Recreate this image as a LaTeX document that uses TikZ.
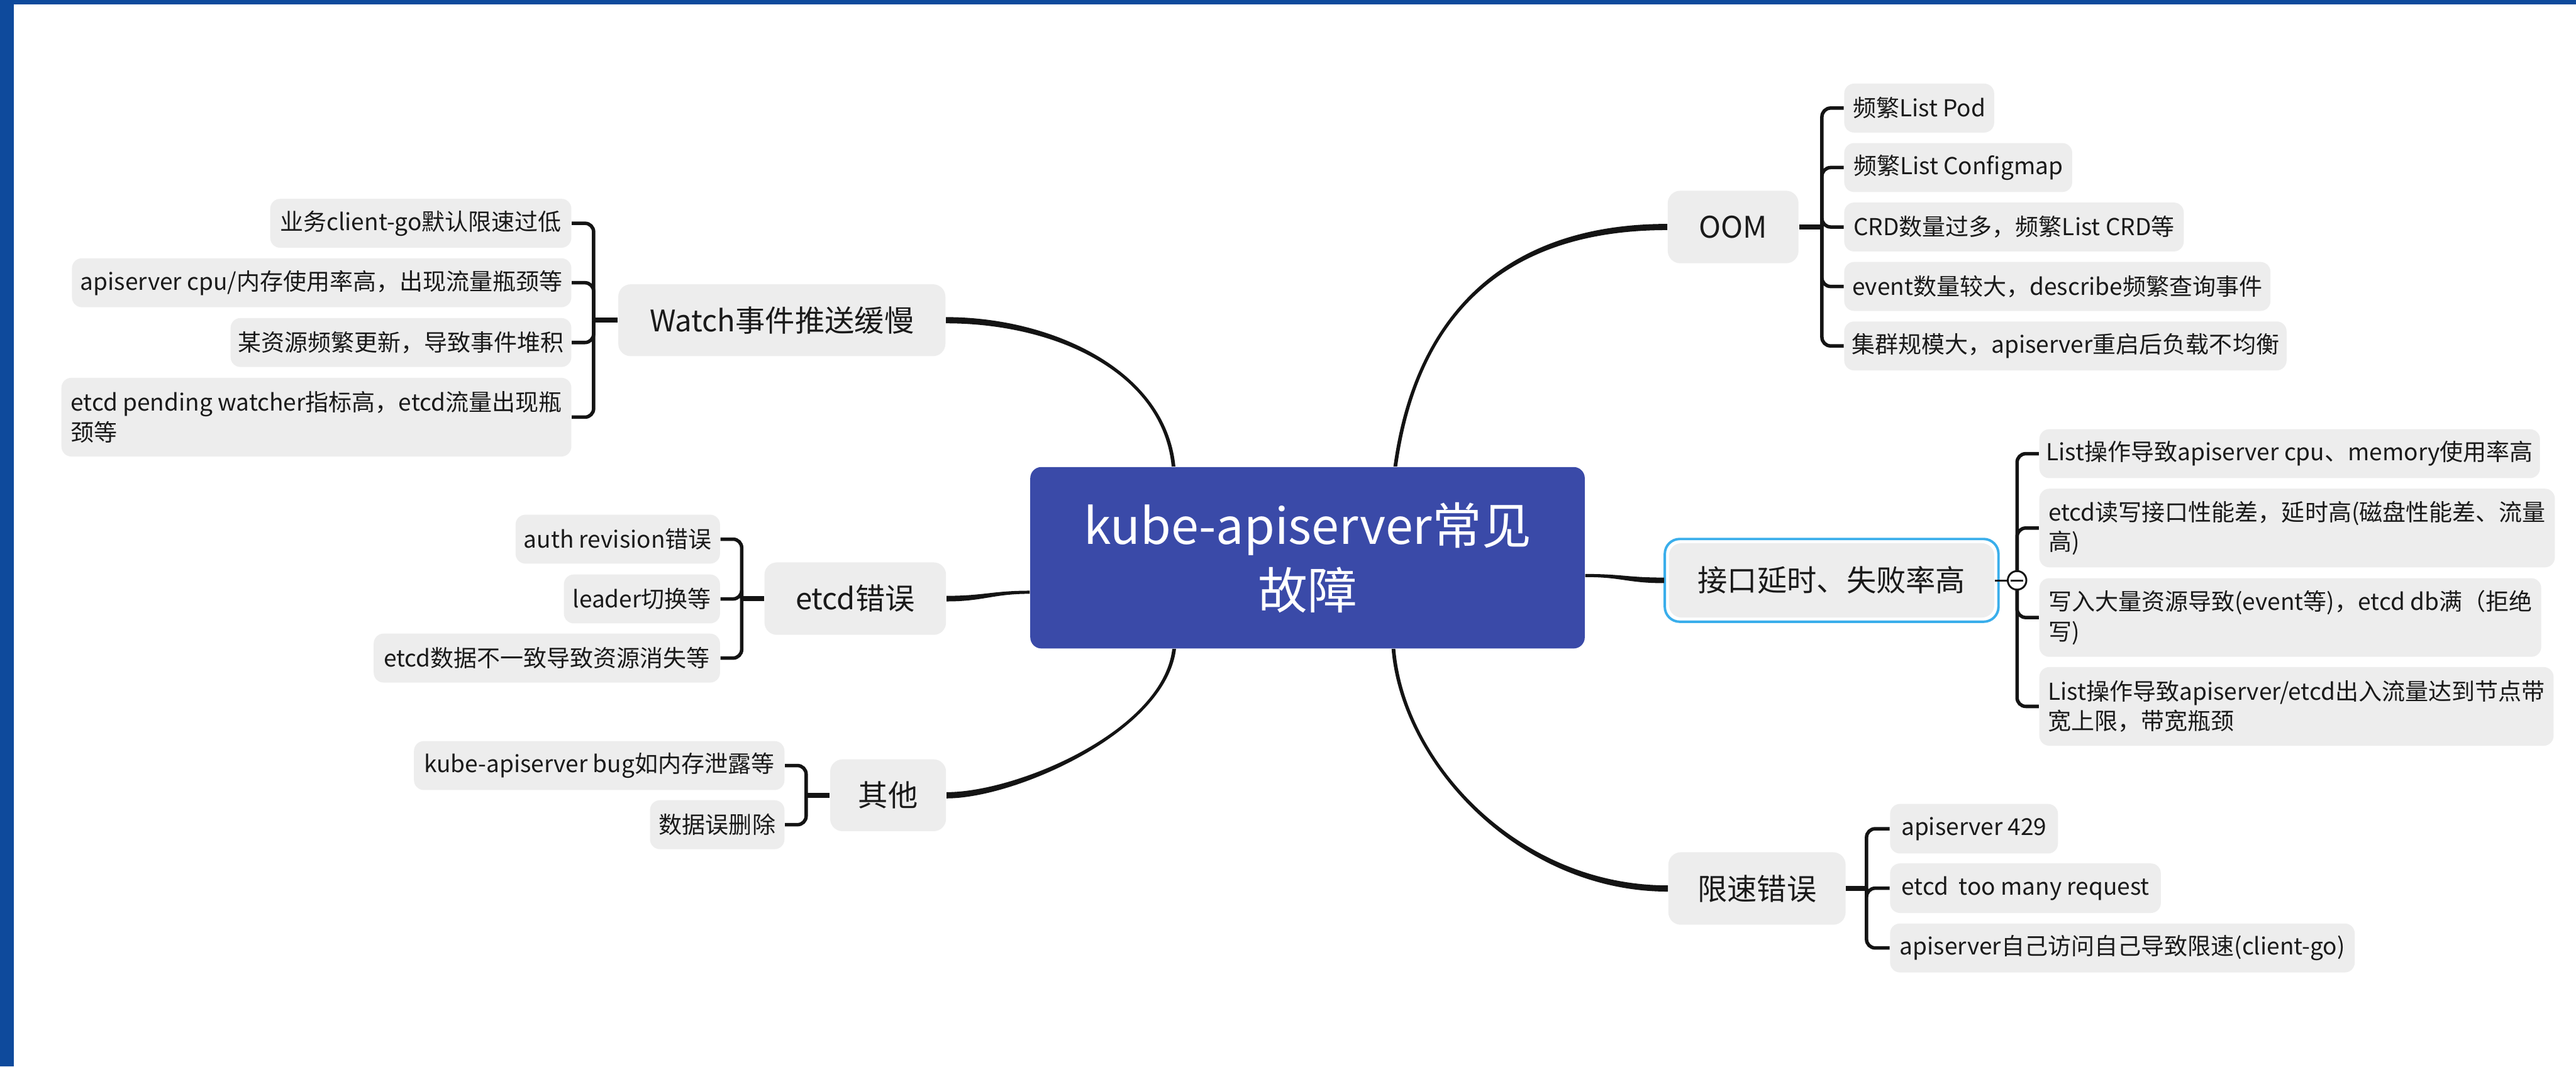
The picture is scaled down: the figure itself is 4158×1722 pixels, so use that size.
\documentclass[tikz,border=0pt]{standalone}
\usepackage{fontspec}
\setmainfont{Noto Sans CJK SC}
\usetikzlibrary{calc}

% one drawing unit = 0.25pt
\def\pxu{*0.25pt}

\definecolor{barblue}{HTML}{0E4A9C}
\definecolor{hubblue}{HTML}{3A4AA8}
\definecolor{boxgrey}{HTML}{EDEDED}
\definecolor{selblue}{HTML}{3AAEEB}
\definecolor{ink}{HTML}{1A1A1A}
\definecolor{linkcol}{HTML}{141414}

\tikzset{
  hubbox/.style={rectangle, rounded corners=4.5pt, fill=hubblue, text=white,
    font=\fontsize{20pt}{26pt}\selectfont, inner sep=0pt, align=center},
  topic/.style={rectangle, rounded corners=5pt, fill=boxgrey, text=ink,
    font=\fontsize{12pt}{15pt}\selectfont, inner sep=0pt, align=center},
  leaf/.style={rectangle, rounded corners=4pt, fill=boxgrey, text=ink,
    font=\fontsize{9.4pt}{12pt}\selectfont, inner sep=0pt, align=left,
    minimum height=79\pxu},
  leaftwo/.style={leaf, minimum height=127\pxu},
  brk/.style={draw=linkcol, line width=1.4pt, rounded corners=3.5pt},
  stub/.style={draw=linkcol, line width=2pt},
}

% tapered curved link: start, control offset from start, control offset from end,
% end, half-width vector at start, half-width vector at end
\newcommand\taperlink[6]{%
  \fill[linkcol] ($(#1)+(#5)$) .. controls ($(#1)+(#2)+(#5)$) and ($(#4)+(#3)+(#6)$) .. ($(#4)+(#6)$)
    -- ($(#4)-(#6)$) .. controls ($(#4)+(#3)-(#6)$) and ($(#1)+(#2)-(#5)$) .. ($(#1)-(#5)$) -- cycle;}

\begin{document}
\begin{tikzpicture}[x=0.25pt, y=-0.25pt]
% canvas and frame bars
\useasboundingbox (0,0) rectangle (4158,1722);
\fill[white] (0,0) rectangle (4158,1722);
\fill[barblue] (0,0) rectangle (4158,7);
\fill[barblue] (0,0) rectangle (22,1722);

% central topic
\node[hubbox, minimum width=895\pxu, minimum height=293\pxu] (hub) at (2110.5,900.5)
  {kube-apiserver常见\\故障};

% main topics
\node[topic, minimum width=528\pxu, minimum height=116\pxu] (watch) at (1262,517) {Watch事件推送缓慢};
\node[topic, minimum width=293\pxu, minimum height=117\pxu] (etcd) at (1380.5,966.5) {etcd错误};
\node[topic, minimum width=187\pxu, minimum height=116\pxu] (other) at (1433.5,1284) {其他};
\node[topic, minimum width=211\pxu, minimum height=117\pxu] (oom) at (2797.5,366.5) {OOM};
\node[topic, minimum width=525\pxu, minimum height=120\pxu] (api) at (2956.5,937) {接口延时、失败率高};
\node[topic, minimum width=286\pxu, minimum height=117\pxu] (rate) at (2836,1434.5) {限速错误};

% selection frame around the focused topic
\draw[selblue, line width=4\pxu, rounded corners=6pt]
  ($(api.south west)+(-6,6)$) rectangle ($(api.north east)+(6,-6)$);

% leaves: Watch
\node[leaf, minimum width=486\pxu, anchor=east] (w1) at (923,360.5) {业务client-go默认限速过低};
\node[leaf, minimum width=806\pxu, anchor=east] (w2) at (923,456.5) {apiserver cpu/内存使用率高，出现流量瓶颈等};
\node[leaf, minimum width=550\pxu, anchor=east] (w3) at (923,553) {某资源频繁更新，导致事件堆积};
\node[leaftwo, minimum width=823\pxu, anchor=east] (w4) at (923,673.5) {etcd pending watcher指标高，etcd流量出现瓶\\颈等};

% leaves: etcd
\node[leaf, minimum width=330\pxu, anchor=east] (e1) at (1163,870.5) {auth revision错误};
\node[leaf, minimum width=252\pxu, anchor=east] (e2) at (1163,967) {leader切换等};
\node[leaf, minimum width=559\pxu, anchor=east] (e3) at (1163,1062.5) {etcd数据不一致导致资源消失等};

% leaves: other
\node[leaf, minimum width=598\pxu, anchor=east] (q1) at (1267,1236) {kube-apiserver bug如内存泄露等};
\node[leaf, minimum width=217\pxu, anchor=east] (q2) at (1267,1331.5) {数据误删除};

% leaves: OOM
\node[leaf, minimum width=242\pxu, anchor=west] (o1) at (2976,174.5) {频繁List Pod};
\node[leaf, minimum width=368\pxu, anchor=west] (o2) at (2976,270.5) {频繁List Configmap};
\node[leaf, minimum width=548\pxu, anchor=west] (o3) at (2976,366.5) {CRD数量过多，频繁List CRD等};
\node[leaf, minimum width=688\pxu, anchor=west] (o4) at (2976,462.5) {event数量较大，describe频繁查询事件};
\node[leaf, minimum width=714\pxu, anchor=west] (o5) at (2976,558.5) {集群规模大，apiserver重启后负载不均衡};

% leaves: latency
\node[leaf, minimum width=808\pxu, anchor=west] (j1) at (3291,732.5) {List操作导致apiserver cpu、memory使用率高};
\node[leaftwo, minimum width=832\pxu, anchor=west] (j2) at (3291,852.5) {etcd读写接口性能差，延时高(磁盘性能差、流量\\高)};
\node[leaftwo, minimum width=810\pxu, anchor=west] (j3) at (3291,997) {写入大量资源导致(event等)，etcd db满（拒绝\\写)};
\node[leaftwo, minimum width=830\pxu, anchor=west] (j4) at (3291,1140.5) {List操作导致apiserver/etcd出入流量达到节点带\\宽上限，带宽瓶颈};

% leaves: rate limiting
\node[leaf, minimum width=271\pxu, minimum height=80\pxu, anchor=west] (x1) at (3050,1338) {apiserver 429};
\node[leaf, minimum width=437\pxu, minimum height=80\pxu, anchor=west] (x2) at (3050,1434) {etcd\ \ too many request};
\node[leaf, minimum width=750\pxu, anchor=west] (x3) at (3050,1530.5) {apiserver自己访问自己导致限速(client-go)};

% attachment points on the central topic
\coordinate (hTL) at ($(hub.north west)+(232,0)$);
\coordinate (hTR) at ($(hub.north west)+(590,0)$);
\coordinate (hBL) at ($(hub.south west)+(233,0)$);
\coordinate (hBR) at ($(hub.south west)+(587,0)$);
\coordinate (hW)  at ($(hub.north west)+(0,203)$);
\coordinate (hE)  at ($(hub.north east)+(0,176)$);
\coordinate (apiIn) at ($(api.west)+(-7,0)$);

% central links
\taperlink{hTL}{-15,-154}{174,0}{watch.east}{3,0}{0,-5}
\taperlink{hW}{-60,0}{60,0}{etcd.east}{0,2.5}{0,4.5}
\taperlink{hBL}{-16,133}{113,0}{other.east}{3,0}{0,5}
\taperlink{hTR}{32,-234}{-272,0}{oom.west}{3,0}{0,5}
\taperlink{hE}{60,0}{-60,0}{apiIn}{0,2.5}{0,4.5}
\taperlink{hBR}{15,183}{-242,0}{rate.west}{3,0}{0,-5}

% bracket junctions
\coordinate (jW) at ($(watch.west)+(-39,0)$);
\coordinate (jE) at ($(etcd.west)+(-36,0)$);
\coordinate (jQ) at ($(other.west)+(-38,0)$);
\coordinate (jO) at ($(oom.east)+(37,0)$);
\coordinate (jJ) at ($(api.east)+(36,0)$);
\coordinate (jX) at ($(rate.east)+(33,0)$);

\draw[stub] (watch.west) -- (jW);
\draw[stub] (etcd.west) -- (jE);
\draw[stub] (other.west) -- (jQ);
\draw[stub] (oom.east) -- (jO);
\draw[stub] (rate.east) -- (jX);
\draw[draw=linkcol, line width=3\pxu] (api.east) -- (jJ);

\foreach \leafname in {w1,w2,w3,w4} \draw[brk] (jW) |- (\leafname.east);
\foreach \leafname in {e1,e2,e3} \draw[brk] (jE) |- (\leafname.east);
\foreach \leafname in {q1,q2} \draw[brk] (jQ) |- (\leafname.east);
\foreach \leafname in {o1,o2,o3,o4,o5} \draw[brk] (jO) |- (\leafname.west);
\foreach \leafname in {j1,j2,j3,j4} \draw[brk] (jJ) |- (\leafname.west);
\foreach \leafname in {x1,x2,x3} \draw[brk] (jX) |- (\leafname.west);

% collapse toggle on the latency branch
\node[circle, draw=linkcol, fill=white, line width=3\pxu, minimum size=30\pxu, inner sep=0pt] (fold) at (jJ) {};
\draw[linkcol, line width=3\pxu] ($(fold.center)+(-10,0)$) -- ($(fold.center)+(10,0)$);
\end{tikzpicture}
\end{document}
